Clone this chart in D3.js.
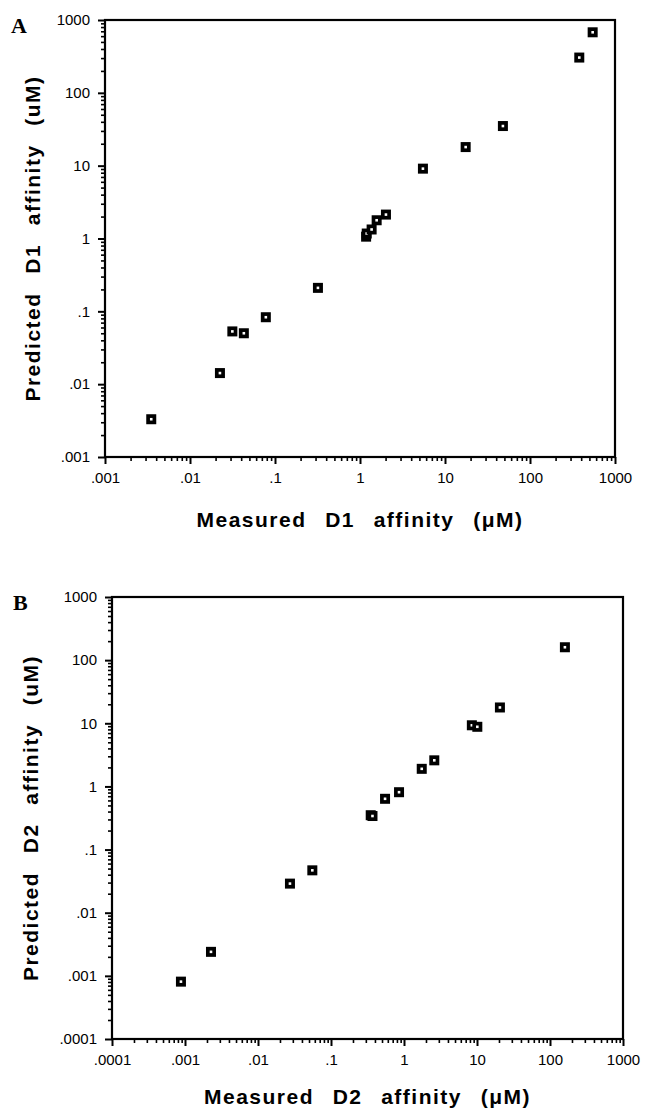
<!DOCTYPE html>
<html>
<head>
<meta charset="utf-8">
<script src="https://cdn.jsdelivr.net/npm/d3@7"></script>
<style>
  html, body { margin: 0; padding: 0; background: #fff; }
  svg { display: block; }
</style>
</head>
<body>
<svg id="chart" width="645" height="1115"></svg>
<script>
// ---- Data ----
const d1Measured  = [0.0035, 0.0225, 0.0315, 0.043, 0.078, 0.32, 1.18, 1.2, 1.37, 1.57, 2.02, 5.5, 17.5, 48, 380, 546];
const d1Predicted = [0.0033, 0.0142, 0.053, 0.050, 0.083, 0.21, 1.06, 1.17, 1.33, 1.78, 2.13, 9.1, 18, 35, 305, 678];

const d2Measured  = [0.00088, 0.00227, 0.0274, 0.0555, 0.35, 0.37, 0.55, 0.855, 1.75, 2.6, 8.5, 10.1, 20.6, 160];
const d2Predicted = [0.00081, 0.0024, 0.0289, 0.0469, 0.35, 0.34, 0.637, 0.81, 1.9, 2.59, 9.3, 8.8, 17.8, 160];

const ticksA = [0.001, 0.01, 0.1, 1, 10, 100, 1000];
const tickLabelsA = [".001", ".01", ".1", "1", "10", "100", "1000"];
const ticksB = [0.0001, 0.001, 0.01, 0.1, 1, 10, 100, 1000];
const tickLabelsB = [".0001", ".001", ".01", ".1", "1", "10", "100", "1000"];

const panelLetters = ["A", "B"];
const xTitles = ["Measured  D1  affinity  (\u03BCM)", "Measured  D2  affinity  (\u03BCM)"];
const yTitles = ["Predicted  D1  affinity  (uM)", "Predicted  D2  affinity  (uM)"];

// ---- Drawing ----
const svg = d3.select("#chart");

function minorTicks(majors) {
  const out = [];
  for (let i = 0; i < majors.length - 1; i++) {
    for (let k = 2; k <= 9; k++) out.push(majors[i] * k);
  }
  return out;
}

function styleTitle(sel) {
  return sel
    .style("font-family", "'Liberation Sans', Arial, sans-serif")
    .style("font-weight", "bold").style("font-size", "21px")
    .style("letter-spacing", "1.5px").style("word-spacing", "2px")
    .style("white-space", "pre")
    .attr("xml:space", "preserve");
}

function drawPanel(cfg) {
  const { left, right, top, bottom, ticks, labels, xs, ys, letter, xTitle, yTitle, letterPos, xTitleY, yTitleX } = cfg;
  const x = d3.scaleLog().domain([ticks[0], ticks[ticks.length - 1]]).range([left, right]);
  const y = d3.scaleLog().domain([ticks[0], ticks[ticks.length - 1]]).range([bottom, top]);
  const fmt = v => labels[ticks.indexOf(v)];
  const g = svg.append("g");

  // minor ticks
  g.append("g").attr("transform", `translate(0,${bottom})`)
    .call(d3.axisBottom(x).tickValues(minorTicks(ticks)).tickSize(4).tickFormat(""))
    .call(s => s.select(".domain").remove())
    .call(s => s.selectAll("line").attr("stroke", "#000").attr("stroke-width", 1.6));
  g.append("g").attr("transform", `translate(${left},0)`)
    .call(d3.axisLeft(y).tickValues(minorTicks(ticks)).tickSize(4).tickFormat(""))
    .call(s => s.select(".domain").remove())
    .call(s => s.selectAll("line").attr("stroke", "#000").attr("stroke-width", 1.6));

  // major ticks + labels
  const ax = g.append("g").attr("transform", `translate(0,${bottom})`)
    .call(d3.axisBottom(x).tickValues(ticks).tickSize(7).tickPadding(8).tickFormat(fmt));
  ax.select(".domain").remove();
  ax.selectAll("line").attr("stroke", "#000").attr("stroke-width", 2);
  ax.selectAll("text").attr("fill", "#000")
    .style("font-family", "'Liberation Sans', Arial, sans-serif").style("font-size", "15px");

  const ay = g.append("g").attr("transform", `translate(${left},0)`)
    .call(d3.axisLeft(y).tickValues(ticks).tickSize(7).tickPadding(8).tickFormat(fmt));
  ay.select(".domain").remove();
  ay.selectAll("line").attr("stroke", "#000").attr("stroke-width", 2);
  ay.selectAll("text").attr("fill", "#000")
    .style("font-family", "'Liberation Sans', Arial, sans-serif").style("font-size", "15px");

  // frame
  g.append("rect").attr("x", left).attr("y", top)
    .attr("width", right - left).attr("height", bottom - top)
    .attr("fill", "none").attr("stroke", "#000").attr("stroke-width", 2.2);

  // points
  const pts = xs.map((v, i) => [v, ys[i]]);
  const m = g.append("g").selectAll("g").data(pts).join("g")
    .attr("transform", d => `translate(${x(d[0])},${y(d[1])})`);
  m.append("rect").attr("x", -5).attr("y", -5).attr("width", 10).attr("height", 10).attr("fill", "#000");
  m.append("rect").attr("x", -1.3).attr("y", -1.3).attr("width", 2.6).attr("height", 2.6).attr("fill", "#fff");

  // titles
  g.append("text").attr("x", (left + right) / 2).attr("y", xTitleY)
    .attr("text-anchor", "middle")
    .call(styleTitle)
    .text(xTitle);
  g.append("text")
    .attr("transform", `translate(${yTitleX},${(top + bottom) / 2}) rotate(-90)`)
    .attr("text-anchor", "middle")
    .call(styleTitle)
    .text(yTitle);
  g.append("text").attr("x", letterPos[0]).attr("y", letterPos[1])
    .style("font-family", "'Liberation Serif', 'Times New Roman', serif")
    .style("font-weight", "bold").style("font-size", "22px")
    .text(letter);
}

drawPanel({
  left: 105, right: 615, top: 20, bottom: 457,
  ticks: ticksA, labels: tickLabelsA, xs: d1Measured, ys: d1Predicted,
  letter: panelLetters[0], xTitle: xTitles[0], yTitle: yTitles[0],
  letterPos: [11, 33], xTitleY: 527, yTitleX: 40
});

drawPanel({
  left: 112, right: 623, top: 597, bottom: 1039,
  ticks: ticksB, labels: tickLabelsB, xs: d2Measured, ys: d2Predicted,
  letter: panelLetters[1], xTitle: xTitles[1], yTitle: yTitles[1],
  letterPos: [13, 610], xTitleY: 1104, yTitleX: 38
});
</script>
</body>
</html>
